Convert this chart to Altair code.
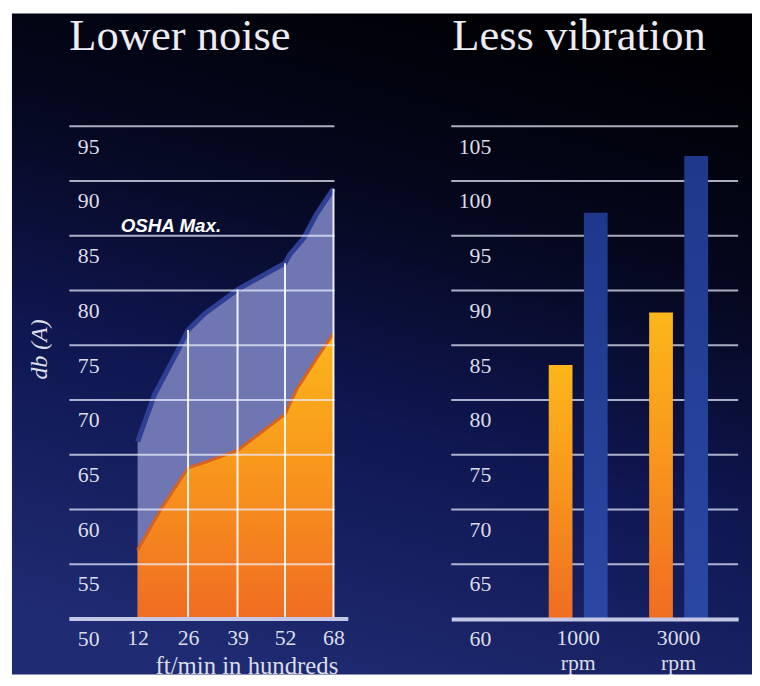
import altair as alt
import pandas as pd

# ---------------- data ----------------
panel_titles = ["Lower noise", "Less vibration"]

# Left panel: noise, dB(A) against ft/min (hundreds)
speed_ticks = [12, 26, 39, 52, 68]
noise_ticks = [50, 55, 60, 65, 70, 75, 80, 85, 90, 95]
upper_x = [12, 16.7, 23.3, 26, 30.4, 39, 52, 53.6, 58.2, 62.4, 68]
upper_db = [66.2, 70.5, 74.6, 76.4, 77.9, 80.1, 82.5, 83.3, 84.8, 87.0, 89.3]
lower_x = [12, 18.6, 26, 31.2, 39, 52, 55.9, 62.4, 68]
lower_db = [56.3, 60.1, 63.8, 64.4, 65.4, 68.7, 71.0, 73.8, 76.1]
rule_x = [26, 39, 52, 68]
rule_top = [76.4, 80.1, 82.5, 89.3]
osha_text = ["OSHA Max."]
osha_x = [7.3]
osha_db = [85.0]

# Right panel: vibration
rpm_labels = ["1000 rpm", "3000 rpm"]
series_names = ["new", "conventional"]
vib_new = [83.2, 88.0]
vib_conv = [97.1, 102.3]
vib_ticks = [60, 65, 70, 75, 80, 85, 90, 95, 100, 105]

# ---------------- styles / layout ----------------
W, H = 752, 670            # whole canvas (page margin 8px)
PLOT_TOP, PLOT_BOT = 116, 614
L_LEFT, L_RIGHT = 62, 330  # left panel plot extent
R_LEFT, R_RIGHT = 448, 738 # right panel plot extent
LABEL_COLOR = "#dcdde8"
GRID_COLOR = "#eceeff"
LINE_COLOR = "#c4c8e6"
SERIF = "Liberation Serif"

bg_grad = {"gradient": "linear", "x1": 0.65, "y1": 0, "x2": 0.35, "y2": 1,
           "stops": [{"offset": 0, "color": "#000004"},
                     {"offset": 0.3, "color": "#05081f"},
                     {"offset": 0.6, "color": "#0f1650"},
                     {"offset": 1, "color": "#1f2b72"}]}
orange_grad = {"gradient": "linear", "x1": 0, "y1": 0, "x2": 0, "y2": 1,
               "stops": [{"offset": 0, "color": "#fcb61b"},
                         {"offset": 0.45, "color": "#f8981c"},
                         {"offset": 1, "color": "#f06c22"}]}
blue_grad = {"gradient": "linear", "x1": 0, "y1": 0, "x2": 0, "y2": 1,
             "stops": [{"offset": 0, "color": "#20388b"},
                       {"offset": 1, "color": "#2a47a4"}]}

one = pd.DataFrame({"k": [0]})

# scales (pixel ranges inside the single canvas)
xL = alt.Scale(domain=speed_ticks, range=[131, 182, 232, 280, 329], zero=False, nice=False)
yL = alt.Scale(domain=[50, 95], range=[PLOT_BOT, PLOT_TOP], zero=False, nice=False)
xR = alt.Scale(domain=rpm_labels, range=[R_LEFT, R_RIGHT], paddingInner=0.3,
               paddingOuter=0.5786, align=0.79)
xO = alt.Scale(domain=series_names, paddingInner=0.324, paddingOuter=0.162)
yR = alt.Scale(domain=[60, 105], range=[PLOT_BOT, PLOT_TOP], zero=False, nice=False)

# ---------------- axes ----------------
x_axis_l = alt.Axis(orient="bottom", offset=-(H - PLOT_BOT), values=speed_ticks, grid=False,
                    ticks=False, tickSize=0, domain=False,
                    labelFont=SERIF, labelFontSize=22, labelColor=LABEL_COLOR,
                    labelBaseline="alphabetic", labelPadding=26, labelFlush=False,
                    labelOverlap=False, zindex=1,
                    title="ft/min in hundreds", titleFont=SERIF, titleFontSize=25,
                    titleFontWeight="normal", titleColor=LABEL_COLOR,
                    titleX=241, titleY=55, titleAlign="center", titleBaseline="alphabetic")
y_axis_l = alt.Axis(orient="left", offset=-L_LEFT, values=noise_ticks, grid=False,
                    ticks=False, tickSize=0, domain=False,
                    labelAlign="right", labelPadding=-30, labelBaseline="alphabetic",
                    labelOffset=27, labelFont=SERIF, labelFontSize=22, labelColor=LABEL_COLOR,
                    labelOverlap=False, labelFlush=False, zindex=1,
                    title="db (A)", titleFont=SERIF, titleFontStyle="italic",
                    titleFontWeight="normal", titleFontSize=24, titleColor=LABEL_COLOR,
                    titleAngle=270, titleX=-30, titleY=341, titleAlign="center",
                    titleBaseline="middle")
x_axis_r = alt.Axis(orient="top", offset=-PLOT_BOT, labelExpr="split(datum.label, ' ')",
                    labelAngle=0, ticks=False, tickSize=0,
                    domain=True, domainColor=LINE_COLOR, domainWidth=4,
                    labelFont=SERIF, labelFontSize=22, labelColor=LABEL_COLOR,
                    labelBaseline="alphabetic", labelPadding=-26, labelLineHeight=25,
                    labelOverlap=False, title=None, zindex=1)
y_axis_r = alt.Axis(orient="right", offset=-(W - R_RIGHT), values=vib_ticks, grid=False,
                    ticks=False, tickSize=0, domain=False,
                    labelAlign="right", labelPadding=-(R_RIGHT - R_LEFT - 40),
                    labelBaseline="alphabetic", labelOffset=27, labelFont=SERIF,
                    labelFontSize=22, labelColor=LABEL_COLOR,
                    labelOverlap=False, labelFlush=False, title=None, zindex=1)

# ---------------- layers ----------------
bg = alt.Chart(one).mark_rect(color=bg_grad).encode(
    x=alt.value(4), x2=alt.value(W), y=alt.value(2), y2=alt.value(H))

# left panel
upper = alt.Chart(pd.DataFrame({"speed": upper_x, "db": upper_db})).mark_area(
    color="#6f76b2", opacity=1, line={"color": "#2f3f95", "strokeWidth": 5}
).encode(
    x=alt.X("speed:Q", scale=xL, axis=x_axis_l),
    y=alt.Y("db:Q", scale=yL, axis=y_axis_l),
    y2=alt.datum(50),
)
lower = alt.Chart(pd.DataFrame({"speed": lower_x, "db": lower_db})).mark_area(
    color=orange_grad, opacity=1, line={"color": "#d9621c", "strokeWidth": 3}
).encode(
    x=alt.X("speed:Q", scale=xL, axis=None),
    y=alt.Y("db:Q", scale=yL, axis=None),
    y2=alt.datum(50),
)
grid_l = alt.Chart(pd.DataFrame({"db": noise_ticks[1:]})).mark_rule(
    color=GRID_COLOR, opacity=0.72, strokeWidth=2
).encode(
    y=alt.Y("db:Q", scale=yL, axis=None),
    x=alt.value(L_LEFT), x2=alt.value(L_RIGHT),
)
vrules = alt.Chart(pd.DataFrame({"speed": rule_x, "top": rule_top})).mark_rule(
    color="white", strokeWidth=2, opacity=0.9
).encode(
    x=alt.X("speed:Q", scale=xL, axis=None),
    y=alt.Y("top:Q", scale=yL, axis=None),
    y2=alt.datum(50),
)
base_l = alt.Chart(pd.DataFrame({"db": noise_ticks[:1]})).mark_rule(
    color=LINE_COLOR, strokeWidth=4
).encode(
    y=alt.Y("db:Q", scale=yL, axis=None),
    x=alt.value(L_LEFT), x2=alt.value(L_RIGHT + 14),
)
osha = alt.Chart(pd.DataFrame({"speed": osha_x, "db": osha_db, "t": osha_text})).mark_text(
    align="left", baseline="alphabetic", dy=-4, font="Liberation Sans",
    fontWeight="bold", fontStyle="italic", fontSize=19, color="white"
).encode(
    x=alt.X("speed:Q", scale=xL, axis=None),
    y=alt.Y("db:Q", scale=yL, axis=None),
    text="t:N",
)
ttl_l = alt.Chart(pd.DataFrame({"t": [panel_titles[0]]})).mark_text(
    align="left", baseline="alphabetic", font=SERIF, fontSize=45, color="#ececf2"
).encode(x=alt.value(L_LEFT), y=alt.value(39), text="t:N")

# right panel
bars_df = pd.DataFrame({
    "rpm": rpm_labels * 2,
    "series": [series_names[0]] * 2 + [series_names[1]] * 2,
    "vib": vib_new + vib_conv,
})
grid_r = alt.Chart(pd.DataFrame({"v": vib_ticks[1:]})).mark_rule(
    color=GRID_COLOR, opacity=0.72, strokeWidth=2
).encode(
    y=alt.Y("v:Q", scale=yR, axis=None),
    x=alt.value(R_LEFT), x2=alt.value(R_RIGHT),
)
bars_new = alt.Chart(bars_df).transform_filter(
    alt.datum.series == series_names[0]
).mark_bar(color=orange_grad).encode(
    x=alt.X("rpm:N", scale=xR, axis=x_axis_r),
    xOffset=alt.XOffset("series:N", scale=xO),
    y=alt.Y("vib:Q", scale=yR, axis=y_axis_r),
    y2=alt.datum(60),
)
bars_conv = alt.Chart(bars_df).transform_filter(
    alt.datum.series == series_names[1]
).mark_bar(color=blue_grad).encode(
    x=alt.X("rpm:N", scale=xR, axis=None),
    xOffset=alt.XOffset("series:N", scale=xO),
    y=alt.Y("vib:Q", scale=yR, axis=None),
    y2=alt.datum(60),
)
ttl_r = alt.Chart(pd.DataFrame({"t": [panel_titles[1]]})).mark_text(
    align="left", baseline="alphabetic", font=SERIF, fontSize=45, color="#ececf2"
).encode(x=alt.value(R_LEFT + 1), y=alt.value(39), text="t:N")

chart = alt.layer(
    bg, upper, lower, grid_l, vrules, base_l, osha, ttl_l,
    grid_r, bars_new, bars_conv, ttl_r,
).resolve_scale(
    x="independent", y="independent", xOffset="independent"
).properties(
    width=W, height=H, background="white", padding=0,
    autosize=alt.AutoSizeParams(type="none"),
).configure_view(strokeWidth=0)

chart.save("out.html", embed_options={"renderer": "svg", "actions": False})
